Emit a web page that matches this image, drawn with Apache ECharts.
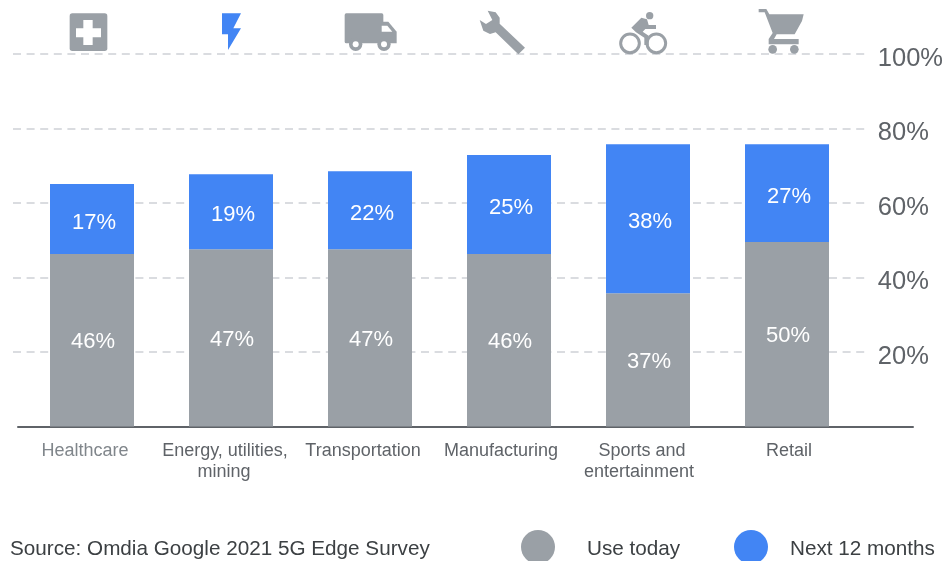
<!DOCTYPE html>
<html>
<head>
<meta charset="utf-8">
<style>html,body{margin:0;padding:0;background:#fff;overflow:hidden}#c{width:946px;height:561px}</style>
<script src="https://cdn.jsdelivr.net/npm/echarts@6/dist/echarts.min.js"></script>
</head>
<body>
<div id="c"></div>
<script>
const categories = ['Healthcare', 'Energy, utilities,\nmining', 'Transportation', 'Manufacturing', 'Sports and\nentertainment', 'Retail'];
const useToday = [46.3, 47.6, 47.6, 46.3, 35.8, 49.5];
const next12 = [18.8, 20.1, 20.9, 26.6, 40, 26.3];
const useTodayLabels = ['46%', '47%', '47%', '46%', '37%', '50%'];
const next12Labels = ['17%', '19%', '22%', '25%', '38%', '27%'];
const categoryShift = [[-7], [-6, -7], [-7], [-8], [-6, -9], [2]];
const seriesNames = ['Use today', 'Next 12 months'];
const sourceText = 'Source: Omdia Google 2021 5G Edge Survey';

const GREY = '#9aa0a6', BLUE = '#4285f4', FONT = '"Liberation Sans", Arial, sans-serif';

const rich = {};
categoryShift.forEach((line, i) => line.forEach((s, j) => {
  rich['c' + i + 'l' + j] = {
    fontFamily: FONT, fontSize: 18, lineHeight: 21,
    color: i === 0 ? '#80868b' : '#5f6368',
    padding: s < 0 ? [0, -2 * s, 0, 0] : [0, 0, 0, 2 * s]
  };
}));

const base = (x, y) => ({x, y, scaleX: 1 / 3, scaleY: 1 / 3, z: 10, silent: true});
const poly = (x, y, points, fill) => ({...base(x, y), type: 'polygon', shape: {points}, style: {fill}});
const box = (x, y, rx, ry, width, height, r, fill) => ({...base(x, y), type: 'rect', shape: {x: rx, y: ry, width, height, r}, style: {fill}});
const disc = (x, y, cx, cy, r, fill) => ({...base(x, y), type: 'circle', shape: {cx, cy, r}, style: {fill}});
const ring = (x, y, cx, cy, r, w) => ({...base(x, y), type: 'circle', shape: {cx, cy, r}, style: {fill: 'none', stroke: GREY, lineWidth: w}});

const icons = [
  box(0, 0, 209, 40, 113, 113, 8, GREY),
  poly(0, 0, [[250,60],[278,60],[278,85],[303,85],[303,112],[278,112],[278,135],[250,135],[250,112],[228,112],[228,85],[250,85]], '#fff'),
  poly(0, 0, [[666,40],[723,40],[700,85],[723,85],[684,150],[684,103],[666,103]], BLUE),
  box(340, 5, 14, 25, 116, 90, 5, GREY),
  poly(340, 5, [[125,50],[145,50],[170,80],[170,115],[125,115]], GREY),
  poly(340, 5, [[125,62],[142,62],[157,80],[125,80]], '#fff'),
  disc(340, 5, 47, 118, 20, GREY), disc(340, 5, 47, 118, 9, '#fff'),
  disc(340, 5, 132, 118, 20, GREY), disc(340, 5, 132, 118, 9, '#fff'),
  poly(475, 5, [[38,17],[62,22],[74,38],[74,56],[150,128],[130,148],[62,82],[45,87],[25,77],[14,45],[33,57],[52,45]], GREY),
  disc(612, 5, 113, 32, 11, GREY),
  poly(612, 5, [[58,68],[88,38],[105,43],[110,60],[132,60],[132,72],[100,72],[92,80],[110,92],[110,120],[97,120],[97,98],[72,82]], GREY),
  ring(612, 5, 54, 115, 28, 9), ring(612, 5, 133, 115, 28, 9),
  poly(752, 5, [[20,12],[43,12],[52,28],[155,28],[150,48],[128,88],[74,88],[66,102],[140,102],[140,118],[50,118],[50,102],[62,84],[38,22],[20,22]], GREY),
  disc(752, 5, 62, 133, 13, GREY), disc(752, 5, 127, 133, 13, GREY)
];

const legendBase = {top: 530, padding: 0, icon: 'circle', itemWidth: 34, itemHeight: 34, formatter: '{t|{name}}'};
const legendText = left => ({fontFamily: FONT, fontSize: 20.7, color: '#3c4043', padding: [0, 0, 0, left],
  rich: {t: {fontFamily: FONT, fontSize: 20.7, color: '#3c4043', padding: [4, 0, 0, 0]}}});
const option = {
  backgroundColor: '#fff',
  animation: false,
  textStyle: {fontFamily: FONT},
  title: {text: sourceText, left: 10, top: 539, padding: 0,
          textStyle: {fontFamily: FONT, fontSize: 20.7, fontWeight: 'normal', color: '#3c4043'}},
  legend: [
    {...legendBase, data: [seriesNames[0]], left: 521, textStyle: legendText(27)},
    {...legendBase, data: [seriesNames[1]], left: 734, textStyle: legendText(17)}
  ],
  grid: [
    {left: 13, width: 853, top: 54, height: 372.5},
    {left: 22.5, width: 834, top: 54, height: 372.5},
    {left: 18, width: 895, top: 54, height: 372.5}
  ],
  xAxis: [
    {gridIndex: 0, type: 'category', data: categories, show: false},
    {gridIndex: 1, type: 'category', data: categories,
     axisLine: {show: false}, axisTick: {show: false},
     axisLabel: {interval: 0, margin: 14, hideOverlap: false,
       formatter: (v, i) => v.split('\n').map((l, j) => '{c' + i + 'l' + j + '|' + l + '}').join('\n'),
       rich}},
    {gridIndex: 2, type: 'category', data: categories,
     axisLine: {show: true, lineStyle: {color: '#5f6368', width: 2}},
     axisTick: {show: false}, axisLabel: {show: false}}
  ],
  yAxis: [
    {gridIndex: 0, type: 'value', position: 'right', min: 0, max: 100, interval: 20,
     axisLine: {show: false}, axisTick: {show: false},
     axisLabel: {margin: 12, formatter: '{t|{value}%}', showMinLabel: false,
                 rich: {t: {fontFamily: FONT, fontSize: 25.5, color: '#5f6368', padding: [9, 0, 0, 0]}}},
     splitLine: {show: true, showMinLine: false, lineStyle: {color: '#dadce0', width: 2, type: [8, 5.6]}}},
    {gridIndex: 1, type: 'value', min: 0, max: 100, interval: 20, show: false},
    {gridIndex: 2, type: 'value', min: 0, max: 100, interval: 20, show: false}
  ],
  series: [
    {name: seriesNames[0], type: 'bar', stack: 'a', xAxisIndex: 1, yAxisIndex: 1, barWidth: 84,
     data: useToday, itemStyle: {color: GREY},
     label: {show: true, position: 'inside', offset: [1, 2], color: '#fff', fontFamily: FONT, fontSize: 22,
             formatter: p => useTodayLabels[p.dataIndex]}},
    {name: seriesNames[1], type: 'bar', stack: 'a', xAxisIndex: 1, yAxisIndex: 1, barWidth: 84,
     data: next12, itemStyle: {color: BLUE},
     label: {show: true, position: 'inside', offset: [2, 3.5], color: '#fff', fontFamily: FONT, fontSize: 22,
             formatter: p => next12Labels[p.dataIndex]}}
  ],
  graphic: {elements: icons}
};
echarts.init(document.getElementById('c'), null, {renderer: 'canvas'}).setOption(option);
</script>
</body>
</html>
